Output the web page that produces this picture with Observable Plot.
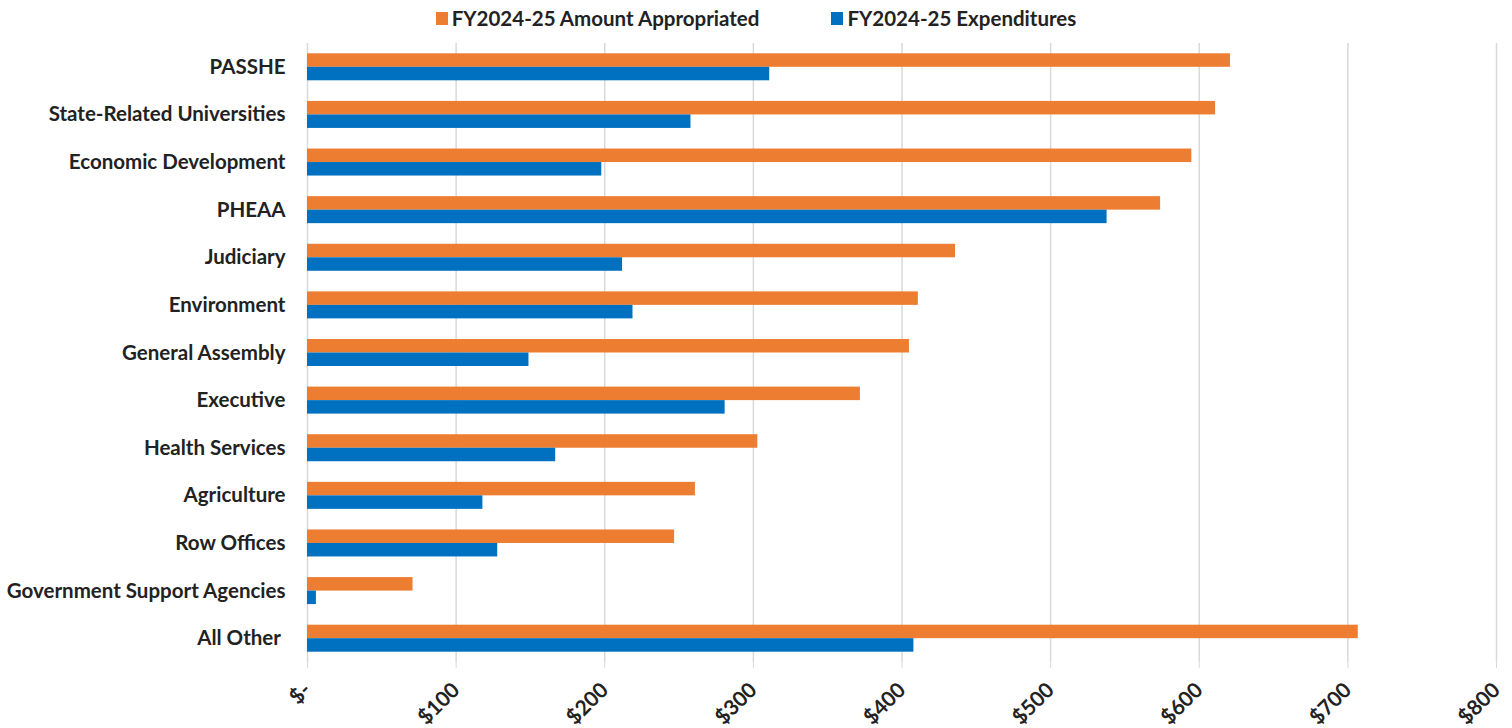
<!DOCTYPE html>
<html><head><meta charset="utf-8">
<script src="https://cdn.jsdelivr.net/npm/d3@7"></script>
<script src="https://cdn.jsdelivr.net/npm/@observablehq/plot@0.6"></script>
<style>
body{margin:0;background:#fff;font-family:Lato,"Open Sans",sans-serif;}
#legend{height:36px;display:flex;justify-content:center;align-items:center;gap:72px;font-weight:700;font-size:20.5px;color:#222;}
#legend .item{display:flex;align-items:center;}
#legend .sw{display:inline-block;width:12px;height:13px;margin-right:4px;}
</style></head><body>
<div id="legend"></div>
<div id="chart"></div>
<script>
const categories = ["PASSHE","State-Related Universities","Economic Development","PHEAA","Judiciary","Environment","General Assembly","Executive","Health Services","Agriculture","Row Offices","Government Support Agencies","All Other\u00a0"];
const appropriated = [621, 611, 595, 574, 436, 411, 405, 372, 303, 261, 247, 71, 707];
const expenditures = [311, 258, 198, 538, 212, 219, 149, 281, 167, 118, 128, 6, 408];
const seriesNames = ["FY2024-25 Amount Appropriated", "FY2024-25 Expenditures"];
const seriesColors = ["#ED7D31", "#0070C0"];
const xTicks = [0, 100, 200, 300, 400, 500, 600, 700, 800];

const rows = [];
categories.forEach((c, i) => {
  rows.push({category: c, series: seriesNames[0], value: appropriated[i]});
  rows.push({category: c, series: seriesNames[1], value: expenditures[i]});
});

const legend = document.getElementById("legend");
seriesNames.forEach((s, i) => {
  const it = document.createElement("span");
  it.className = "item";
  it.innerHTML = `<span class="sw" style="background:${seriesColors[i]}"></span>${s}`;
  legend.appendChild(it);
});

const H = 692, mt = 7, mb = 66;
const band = (H - mt - mb) / categories.length;
const barH = 13.5;
const half = band / 2;

const chart = Plot.plot({
  width: 1512,
  height: H,
  marginLeft: 307,
  marginRight: 16,
  marginTop: mt,
  marginBottom: mb,
  style: {fontFamily: "Lato, 'Open Sans', sans-serif", fontWeight: "bold", color: "#222", background: "#fff"},
  x: {domain: [0, 800], axis: null},
  y: {domain: categories, padding: 0, round: false, axis: null},
  color: {domain: seriesNames, range: seriesColors},
  marks: [
    Plot.gridX(xTicks, {stroke: "#d9d9d9", strokeOpacity: 1, strokeWidth: 1.5}),
    Plot.axisX({ticks: xTicks, tickFormat: d => d === 0 ? "$-" : "$" + d, tickRotate: -45, tickSize: 6, tickPadding: 18, stroke: "#d9d9d9", fontSize: 21, label: null}),
    Plot.axisY({tickSize: 0, tickPadding: 22, fontSize: 20.5, label: null}),
    Plot.barX(rows.filter(d => d.series === seriesNames[0]), {x: "value", y: "category", fill: "series", insetTop: half - barH, insetBottom: half}),
    Plot.barX(rows.filter(d => d.series === seriesNames[1]), {x: "value", y: "category", fill: "series", insetTop: half, insetBottom: half - barH})
  ]
});
document.getElementById("chart").appendChild(chart);
</script>
</body></html>
